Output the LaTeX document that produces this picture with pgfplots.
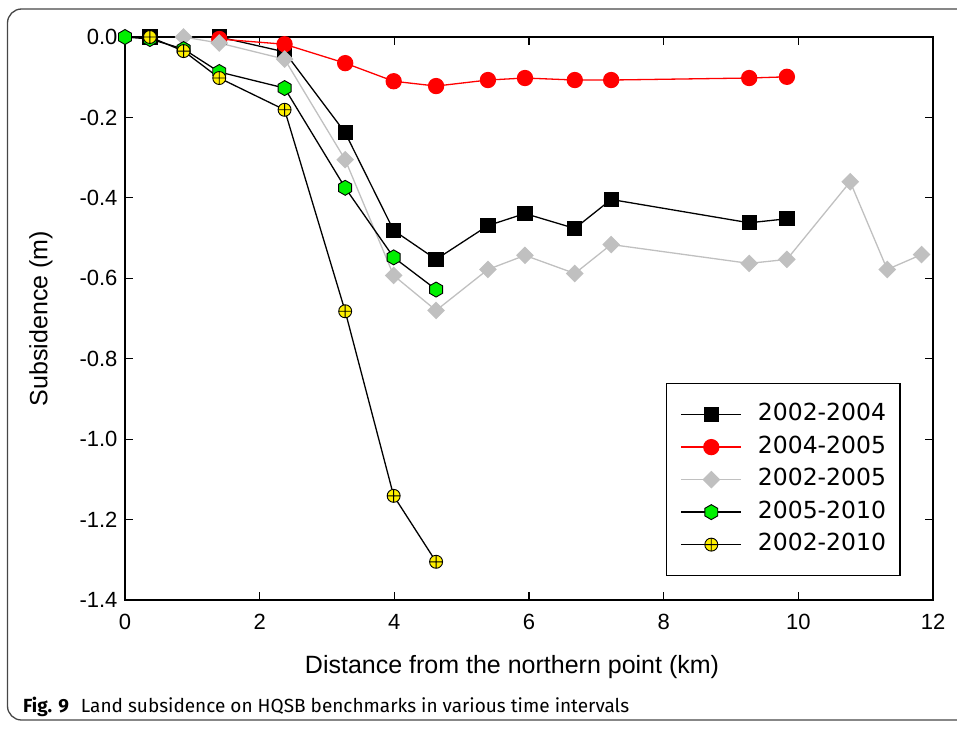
\documentclass[border=0pt]{standalone}
\usepackage{pgfplots}
\pgfplotsset{compat=1.18}
\usepackage{fontspec}
\setmainfont{Liberation Sans}
\newfontfamily\legfont{DejaVu Sans}
\newfontfamily\capfont{Fira Sans}
\definecolor{lgray}{RGB}{192,192,192}
\definecolor{hgreen}{RGB}{0,240,0}
\definecolor{hyellow}{RGB}{255,240,0}
\definecolor{fgray}{RGB}{70,70,70}
\pgfdeclareplotmark{hexagon*}{%
  \pgfpathmoveto{\pgfqpointpolar{90}{\pgfplotmarksize}}%
  \pgfpathlineto{\pgfqpointpolar{150}{\pgfplotmarksize}}%
  \pgfpathlineto{\pgfqpointpolar{210}{\pgfplotmarksize}}%
  \pgfpathlineto{\pgfqpointpolar{270}{\pgfplotmarksize}}%
  \pgfpathlineto{\pgfqpointpolar{330}{\pgfplotmarksize}}%
  \pgfpathlineto{\pgfqpointpolar{30}{\pgfplotmarksize}}%
  \pgfpathclose
  \pgfusepathqfillstroke}
\begin{document}
\begin{tikzpicture}
\useasboundingbox (0pt,0pt) rectangle (957pt,-728pt);
\draw[line width=1.3pt, fgray, rounded corners=14pt] (7.5pt,-9pt) rectangle (990pt,-720pt);
\begin{axis}[
  at={(125pt,-600pt)}, anchor=south west,
  scale only axis, width=808pt, height=563pt,
  xmin=0, xmax=12, ymin=-1.4, ymax=0,
  xtick={0,2,4,6,8,10,12}, xticklabels={0,2,4,6,8,10,12},
  ytick={-1.4,-1.2,-1,-0.8,-0.6,-0.4,-0.2,0},
  yticklabels={-1.4,-1.2,-1.0,-0.8,-0.6,-0.4,-0.2,0.0},
  tick align=inside, major tick length=8pt,
  axis line style={line width=1.5pt},
  every tick/.style={line width=1.2pt, black},
  ticklabel style={font=\fontsize{22}{22}\selectfont},
  xticklabel style={yshift=-11pt},
  yticklabel style={xshift=-4pt},
  xlabel={Distance from the northern point (km)},
  ylabel={Subsidence (m)},
  label style={font=\fontsize{25}{25}\selectfont},
  xlabel style={at={(axis description cs:0.5,0)}, anchor=center, yshift=-67pt, xshift=-17pt},
  ylabel style={at={(axis description cs:0,0.5)}, anchor=center, yshift=84pt},
  clip=false,
  legend cell align=left,
  legend style={at={(0.6696,0.3854)}, anchor=north west,
    draw=black, line width=1.2pt,
    font=\legfont\fontsize{23.5}{24}\selectfont,
    inner xsep=14pt, inner ysep=20pt,
    nodes={inner sep=0pt, text height=17pt, text depth=5pt},
    row sep=10.5pt,
    /tikz/every odd column/.append style={column sep=16pt}},
  legend image code/.code={\draw[mark repeat=2,mark phase=2,#1] plot coordinates {(0pt,0pt) (30pt,0pt) (60pt,0pt)};},
]
\addplot[black, line width=1.3pt, mark=square*, mark size=7pt, mark options={solid}] coordinates {
(0.37,0) (1.4,0) (2.37,-0.037) (3.27,-0.238) (3.99,-0.481) (4.62,-0.553)
(5.39,-0.469) (5.94,-0.439) (6.68,-0.476) (7.22,-0.404) (9.27,-0.462) (9.83,-0.452)};
\addlegendentry{2002-2004}
\addplot[red, line width=1.3pt, mark=*, mark size=7.5pt] coordinates {
(1.4,-0.005) (2.37,-0.018) (3.27,-0.065) (3.99,-0.110) (4.62,-0.122) (5.39,-0.107)
(5.94,-0.102) (6.68,-0.107) (7.22,-0.107) (9.27,-0.102) (9.83,-0.099)};
\addlegendentry{2004-2005}
\addplot[lgray, line width=1.3pt, mark=square*, mark size=5.6pt, mark options={rotate=45}] coordinates {
(0.87,0) (1.4,-0.015) (2.37,-0.055) (3.27,-0.305) (3.99,-0.593) (4.62,-0.680) (5.39,-0.578)
(5.94,-0.543) (6.68,-0.588) (7.22,-0.516) (9.27,-0.563) (9.83,-0.553) (10.77,-0.360)
(11.32,-0.578) (11.83,-0.541)};
\addlegendentry{2002-2005}
\addplot[black, line width=1.3pt, mark=hexagon*, mark size=7.5pt, mark options={fill=hgreen, draw=black, line width=0.9pt}] coordinates {
(0,0) (0.37,-0.005) (0.87,-0.03) (1.4,-0.087) (2.37,-0.127) (3.27,-0.375) (3.99,-0.548) (4.62,-0.628)};
\addlegendentry{2005-2010}
\addplot[black, line width=1.3pt, mark=oplus*, mark size=6.5pt, mark options={fill=hyellow, draw=black, line width=0.9pt}] coordinates {
(0.37,0) (0.87,-0.035) (1.4,-0.102) (2.37,-0.181) (3.27,-0.682) (3.99,-1.141) (4.62,-1.305)};
\addlegendentry{2002-2010}
\end{axis}
\node[anchor=base west, inner sep=0pt, font=\capfont\fontsize{19}{19}\selectfont] at (23pt,-712pt) {\textbf{Fig. 9}\hspace{12pt}Land subsidence on HQSB benchmarks in various time intervals};
\end{tikzpicture}
\end{document}
